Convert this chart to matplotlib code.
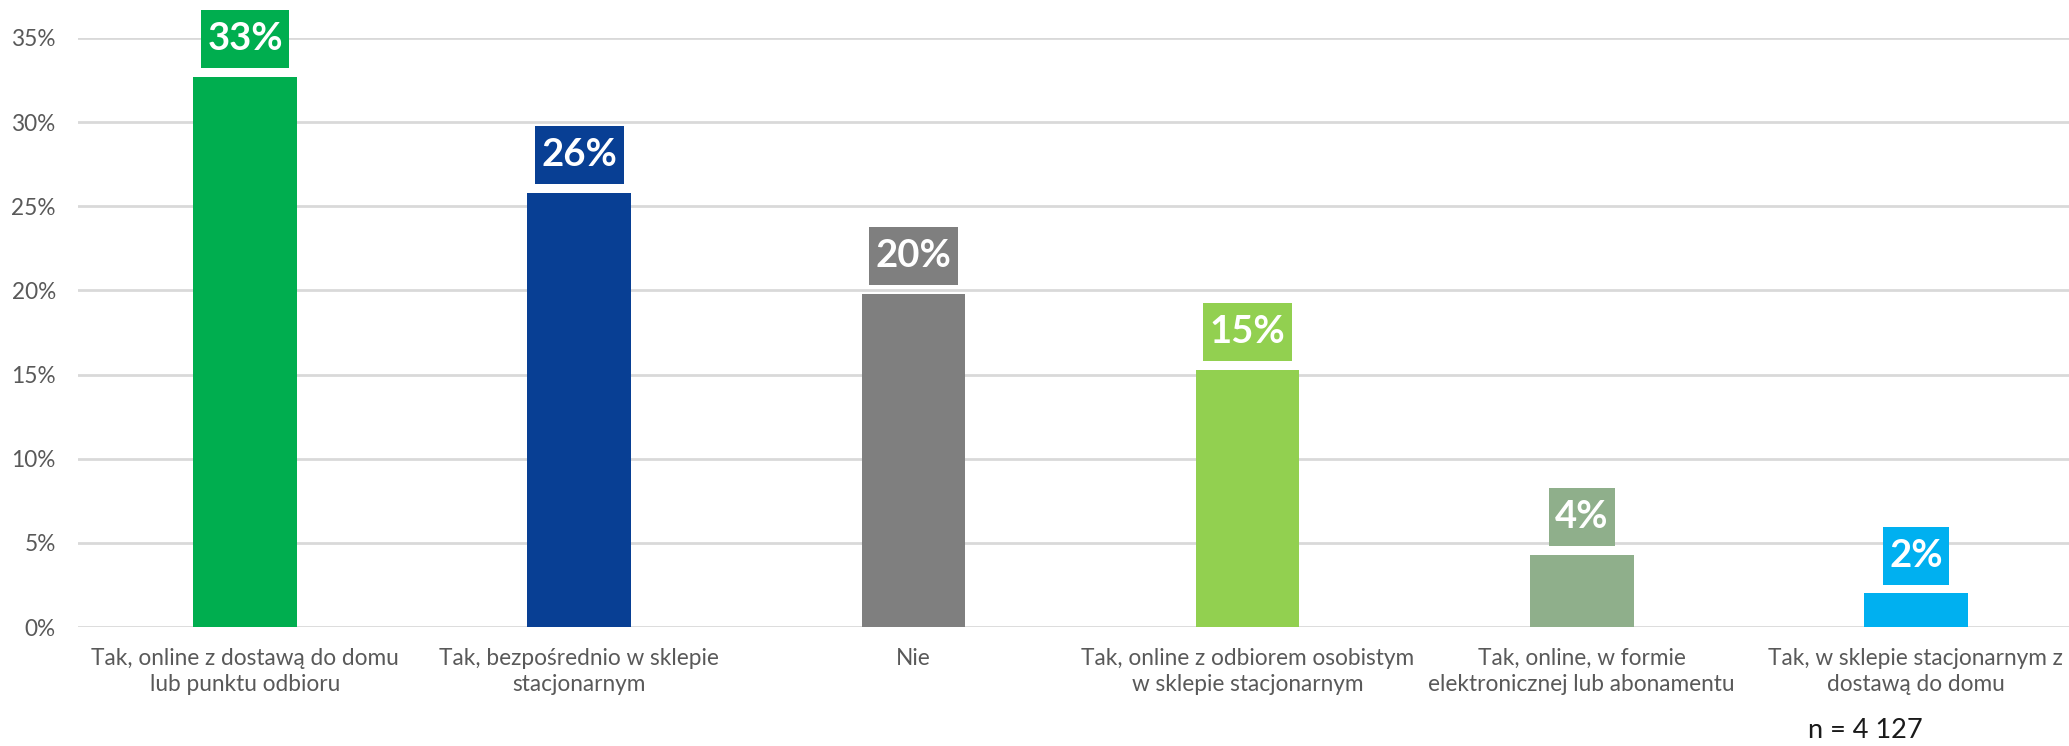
import matplotlib
matplotlib.use("Agg")
import matplotlib.pyplot as plt
from matplotlib.path import Path
from matplotlib.ticker import FuncFormatter, MultipleLocator

categories = [
    "Tak, online z dostawą do domu\nlub punktu odbioru",
    "Tak, bezpośrednio w sklepie\nstacjonarnym",
    "Nie",
    "Tak, online z odbiorem osobistym\nw sklepie stacjonarnym",
    "Tak, online, w formie\nelektronicznej lub abonamentu",
    "Tak, w sklepie stacjonarnym z\ndostawą do domu",
]
values = [32.7, 25.8, 19.8, 15.3, 4.3, 2.0]
value_labels = ["33%", "26%", "20%", "15%", "4%", "2%"]
colors = ["#00AE4F", "#083F94", "#7F7F7F", "#92D050", "#8FAF8B", "#00B0F0"]
note = "n = 4 127"

plt.rcParams['font.family'] = ['Lato', 'DejaVu Sans']


def label_box(x0, y0, width, height, mutation_size):
    px = 0.17 * mutation_size
    py = 0.31 * mutation_size
    x0, y0 = x0 - px, y0 - py
    x1, y1 = x0 + width + 2 * px, y0 + height + 2 * py
    return Path([(x0, y0), (x1, y0), (x1, y1), (x0, y1), (x0, y0)], closed=True)


W, H = 2069, 746
fig = plt.figure(figsize=(W / 100, H / 100), dpi=100)
ax_left = 78 / W
ax_right = 2083 / W
ax_bottom = (H - 627) / H
ax_top = (H - 38) / H
ax = fig.add_axes([ax_left, ax_bottom, ax_right - ax_left, ax_top - ax_bottom])

x = list(range(len(categories)))
ax.bar(x, values, width=0.31, color=colors, zorder=3)
ax.set_xlim(-0.5, len(categories) - 0.5)
ax.set_ylim(0, 35)
ax.yaxis.set_major_locator(MultipleLocator(5))
ax.yaxis.set_major_formatter(FuncFormatter(lambda v, p: f"{v:.0f}%"))
ax.grid(axis='y', color='#D9D9D9', linewidth=2, zorder=0)
for s in ax.spines.values():
    s.set_visible(False)
ax.tick_params(axis='both', length=0, labelsize=16.3, labelcolor='#595959')
ax.tick_params(axis='y', pad=16)
ax.tick_params(axis='x', pad=15)
ax.set_xticks(x)
ax.set_xticklabels(categories, linespacing=1.3)

for xi, v, lab, c in zip(x, values, value_labels, colors):
    ax.annotate(lab, xy=(xi, v), xytext=(0, 27), textcoords='offset points',
                ha='center', va='center', fontsize=27.5, fontweight='bold',
                color='white', clip_on=False, zorder=4,
                bbox=dict(boxstyle=label_box, fc=c, ec='none'))

fig.text(1865 / W, 1 - 731 / H, note, ha='center', va='center',
         fontsize=19.5, color='#1a1a1a')

fig.savefig("out.png", dpi=100)
